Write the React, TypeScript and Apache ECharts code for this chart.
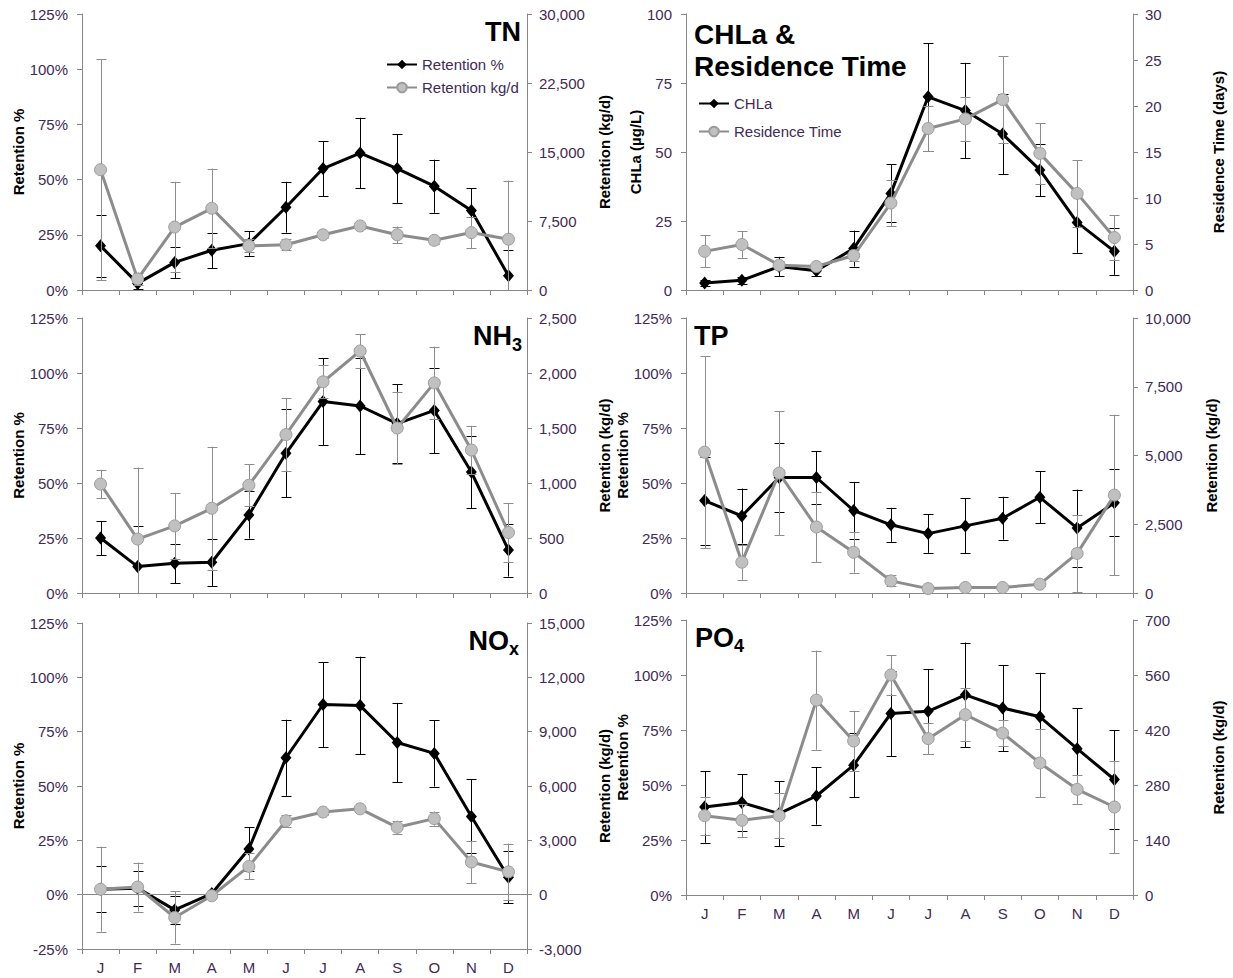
import React, { useEffect, useRef } from 'react';
import * as echarts from 'echarts';

const months = ['J', 'F', 'M', 'A', 'M', 'J', 'J', 'A', 'S', 'O', 'N', 'D'];

// TN
const tnPct = [20, 3, 12.5, 18, 21, 37.5, 55, 62, 55, 47, 36, 6.5];
const tnPctErr = [14, 2.5, 7, 8, 5.5, 11.5, 12.5, 16, 15.5, 12, 10, 11.5];
const tnKg = [13080, 1200, 6840, 8880, 4800, 4920, 6000, 6960, 6000, 5400, 6240, 5520];
const tnKgErr = [12000, 700, 4920, 4320, 700, 600, 350, 300, 900, 350, 1680, 6360];

// CHLa & Residence time
const chla = [2.5, 3.5, 8.5, 7, 15, 35, 70, 65, 56.5, 43.5, 24.5, 14];
const chlaErr = [1.2, 1.2, 3.5, 1.8, 6.5, 10.5, 19.5, 17.3, 14.5, 9.5, 11, 8.5];
const resTime = [4.2, 4.95, 2.7, 2.55, 3.75, 9.45, 17.55, 18.6, 20.7, 14.85, 10.5, 5.7];
const resTimeErr = [1.75, 1.45, 0.4, 0.3, 0.6, 2.5, 2.4, 2.4, 4.7, 3.3, 3.6, 2.4];

// NH3
const nh3Pct = [25, 12, 13.5, 14, 35.5, 63.5, 87, 85, 77, 83, 55, 19.5];
const nh3PctErr = [7.75, 18.5, 9, 10.75, 10.75, 20, 19.75, 22, 18, 19.5, 16.5, 12];
const nh3Kg = [990, 490, 610, 770, 980, 1440, 1920, 2200, 1500, 1910, 1300, 550];
const nh3KgErr = [130, 650, 300, 560, 190, 330, 150, 155, 330, 330, 220, 270];

// TP
const tpPct = [42, 35, 52.5, 52.5, 37.5, 31, 27, 30.5, 34, 43.5, 29.5, 41];
const tpPctErr = [20, 12.5, 15.5, 12, 13, 7.75, 8.75, 12.5, 9.75, 11.75, 17.5, 15.25];
const tpKg = [5120, 1120, 4360, 2400, 1480, 440, 160, 200, 200, 320, 1440, 3560];
const tpKgErr = [3500, 640, 2260, 1280, 740, 200, 60, 60, 60, 60, 1400, 2920];

// NOx
const noxPct = [2.5, 3, -7, 0.5, 21, 63, 87.5, 87, 70, 65, 36, 8];
const noxPctErr = [10.5, 8, 6.5, 0.5, 10, 17.5, 19.5, 22.5, 18.25, 15.25, 17, 12];
const noxKg = [300, 420, -1260, -60, 1560, 4080, 4560, 4740, 3720, 4200, 1800, 1260];
const noxKgErr = [2340, 1350, 1440, 60, 720, 330, 150, 150, 360, 390, 1170, 1560];

// PO4
const po4Pct = [40, 42, 37, 45, 59, 82.5, 83.5, 91, 85, 81, 66.5, 52.5];
const po4PctErr = [16.25, 13, 14.75, 13, 14.5, 19.5, 19.25, 23.75, 19.5, 20, 18.5, 22.5];
const po4Kg = [202, 190, 202, 496, 392, 560, 398, 459, 412, 336, 269, 224];
const po4KgErr = [48, 42, 57, 126, 77, 50, 40, 68, 33, 87, 37, 118];

const FONT = '"Liberation Sans", Arial, Helvetica, sans-serif';
const LABEL_COLOR = '#3f2a56';
const AXIS_COLOR = '#868686';
const GRAY_LINE = '#8c8c8c';
const GRAY_FILL = '#c0c0c0';
const GRAY_ERR = '#8c8c8c';

interface PanelCfg {
  grid: { left: number; top: number; width: number; height: number };
  showX: boolean;
  left: { min: number; max: number; interval: number; pct: boolean; name: string; gap: number };
  right: { min: number; max: number; interval: number; name: string; gap: number };
  black: { name: string; v: number[]; e: number[] };
  gray: { name: string; v: number[]; e: number[] };
  zeroLine?: boolean;
}

const panels: PanelCfg[] = [
  {
    grid: { left: 82, top: 14, width: 445, height: 276 },
    showX: false,
    left: { min: 0, max: 125, interval: 25, pct: true, name: 'Retention %', gap: 55 },
    right: { min: 0, max: 30000, interval: 7500, name: 'Retention (kg/d)', gap: 70 },
    black: { name: 'Retention %', v: tnPct, e: tnPctErr },
    gray: { name: 'Retention kg/d', v: tnKg, e: tnKgErr },
  },
  {
    grid: { left: 686, top: 14, width: 447, height: 276 },
    showX: false,
    left: { min: 0, max: 100, interval: 25, pct: false, name: 'CHLa (µg/L)', gap: 42 },
    right: { min: 0, max: 30, interval: 5, name: 'Residence Time (days)', gap: 78 },
    black: { name: 'CHLa', v: chla, e: chlaErr },
    gray: { name: 'Residence Time', v: resTime, e: resTimeErr },
  },
  {
    grid: { left: 82, top: 318, width: 445, height: 275 },
    showX: false,
    left: { min: 0, max: 125, interval: 25, pct: true, name: 'Retention %', gap: 55 },
    right: { min: 0, max: 2500, interval: 500, name: 'Retention (kg/d)', gap: 70 },
    black: { name: 'Retention %', v: nh3Pct, e: nh3PctErr },
    gray: { name: 'Retention kg/d', v: nh3Kg, e: nh3KgErr },
  },
  {
    grid: { left: 686, top: 318, width: 447, height: 275 },
    showX: false,
    left: { min: 0, max: 125, interval: 25, pct: true, name: 'Retention %', gap: 52 },
    right: { min: 0, max: 10000, interval: 2500, name: 'Retention (kg/d)', gap: 71 },
    black: { name: 'Retention %', v: tpPct, e: tpPctErr },
    gray: { name: 'Retention kg/d', v: tpKg, e: tpKgErr },
  },
  {
    grid: { left: 82, top: 623, width: 445, height: 326 },
    showX: true,
    left: { min: -25, max: 125, interval: 25, pct: true, name: 'Retention %', gap: 55 },
    right: { min: -3000, max: 15000, interval: 3000, name: 'Retention (kg/d)', gap: 70 },
    black: { name: 'Retention %', v: noxPct, e: noxPctErr },
    gray: { name: 'Retention kg/d', v: noxKg, e: noxKgErr },
    zeroLine: true,
  },
  {
    grid: { left: 686, top: 620, width: 447, height: 275 },
    showX: true,
    left: { min: 0, max: 125, interval: 25, pct: true, name: 'Retention %', gap: 52 },
    right: { min: 0, max: 700, interval: 140, name: 'Retention (kg/d)', gap: 78 },
    black: { name: 'Retention %', v: po4Pct, e: po4PctErr },
    gray: { name: 'Retention kg/d', v: po4Kg, e: po4KgErr },
  },
];

let measureCtx: CanvasRenderingContext2D | null = null;
function measure(text: string, font: string): number {
  if (!measureCtx) {
    const c = document.createElement('canvas');
    measureCtx = c.getContext('2d');
  }
  if (!measureCtx) return text.length * 15;
  measureCtx.font = font;
  return measureCtx.measureText(text).width;
}

function errRender(color: string) {
  return (params: any, api: any) => {
    const cs = params.coordSys;
    const idx = api.value(0);
    const pLo = api.coord([idx, api.value(1)]);
    const pHi = api.coord([idx, api.value(2)]);
    const x = Math.round(pLo[0]) + 0.5;
    const top = cs.y;
    const bot = cs.y + cs.height;
    const yLo = pLo[1];
    const yHi = pHi[1];
    const ya = Math.max(top, Math.min(bot, yHi));
    const yb = Math.max(top, Math.min(bot, yLo));
    const half = 5;
    const st = { stroke: color, lineWidth: 1 };
    const children: any[] = [
      { type: 'line', shape: { x1: x, y1: ya, x2: x, y2: yb }, style: st },
    ];
    if (yHi >= top && yHi <= bot) {
      const y = Math.round(yHi) + 0.5;
      children.push({ type: 'line', shape: { x1: x - half, y1: y, x2: x + half, y2: y }, style: st });
    }
    if (yLo >= top && yLo <= bot) {
      const y = Math.round(yLo) + 0.5;
      children.push({ type: 'line', shape: { x1: x - half, y1: y, x2: x + half, y2: y }, style: st });
    }
    return { type: 'group', children };
  };
}

function buildOption() {
  const grid: any[] = [];
  const xAxis: any[] = [];
  const yAxis: any[] = [];
  const series: any[] = [];

  panels.forEach((p, i) => {
    grid.push({ ...p.grid, containLabel: false });
    xAxis.push({
      type: 'category',
      gridIndex: i,
      data: months,
      boundaryGap: true,
      axisLine: { show: true, onZero: false, lineStyle: { color: AXIS_COLOR, width: 1 } },
      axisTick: { show: true, alignWithLabel: false, length: 5, inside: false, lineStyle: { color: AXIS_COLOR } },
      axisLabel: { show: p.showX, fontSize: 15, fontFamily: FONT, color: LABEL_COLOR, margin: 11 },
      splitLine: { show: false },
    });
    const lIdx = yAxis.length;
    yAxis.push({
      type: 'value',
      gridIndex: i,
      position: 'left',
      min: p.left.min,
      max: p.left.max,
      interval: p.left.interval,
      name: p.left.name,
      nameLocation: 'middle',
      nameRotate: 90,
      nameGap: p.left.gap,
      nameTextStyle: { fontSize: 15, fontWeight: 'bold', fontFamily: FONT, color: '#000' },
      axisLine: { show: true, onZero: false, lineStyle: { color: AXIS_COLOR, width: 1 } },
      axisTick: { show: true, length: 5, lineStyle: { color: AXIS_COLOR } },
      axisLabel: {
        fontSize: 15,
        fontFamily: FONT,
        color: LABEL_COLOR,
        margin: 14,
        formatter: p.left.pct ? '{value}%' : (v: number) => String(v),
      },
      splitLine: { show: false },
    });
    const rIdx = yAxis.length;
    yAxis.push({
      type: 'value',
      gridIndex: i,
      position: 'right',
      min: p.right.min,
      max: p.right.max,
      interval: p.right.interval,
      name: p.right.name,
      nameLocation: 'middle',
      nameRotate: 90,
      nameGap: p.right.gap,
      nameTextStyle: { fontSize: 15, fontWeight: 'bold', fontFamily: FONT, color: '#000' },
      axisLine: { show: true, onZero: false, lineStyle: { color: AXIS_COLOR, width: 1 } },
      axisTick: { show: true, length: 5, lineStyle: { color: AXIS_COLOR } },
      axisLabel: {
        fontSize: 15,
        fontFamily: FONT,
        color: LABEL_COLOR,
        margin: 12,
        formatter: (v: number) => v.toLocaleString('en-US'),
      },
      splitLine: { show: false },
    });

    series.push({
      type: 'custom',
      name: p.black.name + ' err',
      xAxisIndex: i,
      yAxisIndex: lIdx,
      z: 2,
      silent: true,
      renderItem: errRender('#000'),
      encode: { x: 0, y: [1, 2] },
      data: p.black.v.map((v, k) => [k, v - p.black.e[k], v + p.black.e[k]]),
    });
    const blackLine: any = {
      type: 'line',
      name: p.black.name,
      xAxisIndex: i,
      yAxisIndex: lIdx,
      z: 3,
      data: p.black.v,
      symbol: 'diamond',
      symbolSize: [11, 13],
      lineStyle: { color: '#000', width: 3 },
      itemStyle: { color: '#000' },
    };
    if (p.zeroLine) {
      blackLine.markLine = {
        silent: true,
        symbol: ['none', 'none'],
        label: { show: false },
        lineStyle: { color: AXIS_COLOR, width: 1, type: 'solid' },
        data: [{ yAxis: 0 }],
      };
    }
    series.push(blackLine);
    series.push({
      type: 'custom',
      name: p.gray.name + ' err',
      xAxisIndex: i,
      yAxisIndex: rIdx,
      z: 4,
      silent: true,
      renderItem: errRender(GRAY_ERR),
      encode: { x: 0, y: [1, 2] },
      data: p.gray.v.map((v, k) => [k, v - p.gray.e[k], v + p.gray.e[k]]),
    });
    series.push({
      type: 'line',
      name: p.gray.name,
      xAxisIndex: i,
      yAxisIndex: rIdx,
      z: 5,
      data: p.gray.v,
      symbol: 'circle',
      symbolSize: 12,
      lineStyle: { color: GRAY_LINE, width: 3 },
      itemStyle: { color: GRAY_FILL, borderColor: '#9c9c9c', borderWidth: 1 },
    });
  });

  const titleFont = 'bold 27px ' + FONT;
  const bigFont = 'bold 28px ' + FONT;
  const subFont = 'bold 18px ' + FONT;
  const t = (text: string, x: number, y: number, font: string) => ({
    type: 'text',
    x,
    y,
    silent: true,
    style: { text, font, fill: '#000', textAlign: 'left', textVerticalAlign: 'top', align: 'left', verticalAlign: 'top' },
  });

  const wTN = measure('TN', titleFont);
  const wNH = measure('NH', titleFont);
  const w3 = measure('3', subFont);
  const wNO = measure('NO', titleFont);
  const wx = measure('x', subFont);
  const wPO = measure('PO', titleFont);

  const nhX = 522 - w3 - wNH;
  const noX = 519 - wx - wNO;

  const graphic = [
    t('TN', 521 - wTN, 18, titleFont),
    t('CHLa &', 694, 20, bigFont),
    t('Residence Time', 694, 52, bigFont),
    t('NH', nhX, 322, titleFont),
    t('3', nhX + wNH, 336, subFont),
    t('TP', 694, 322, titleFont),
    t('NO', noX, 627, titleFont),
    t('x', noX + wNO, 640, subFont),
    t('PO', 695, 624, titleFont),
    t('4', 695 + wPO, 637, subFont),
  ];

  const legendText = { fontSize: 15, fontFamily: FONT, color: LABEL_COLOR };

  return {
    animation: false,
    backgroundColor: '#ffffff',
    grid,
    xAxis,
    yAxis,
    series,
    graphic,
    legend: [
      {
        left: 381,
        top: 52,
        orient: 'vertical',
        data: ['Retention %', 'Retention kg/d'],
        itemWidth: 30,
        itemHeight: 12,
        itemGap: 8,
        selectedMode: false,
        textStyle: legendText,
      },
      {
        left: 693,
        top: 91,
        orient: 'vertical',
        data: ['CHLa', 'Residence Time'],
        itemWidth: 30,
        itemHeight: 12,
        itemGap: 13,
        selectedMode: false,
        textStyle: legendText,
      },
    ],
  };
}

export default function App() {
  const ref = useRef<HTMLDivElement>(null);
  useEffect(() => {
    if (!ref.current) return;
    const chart = echarts.init(ref.current, undefined, { renderer: 'svg' });
    chart.setOption(buildOption() as any);
    return () => chart.dispose();
  }, []);
  return (
    <div
      ref={ref}
      style={{ position: 'absolute', left: 0, top: 0, width: 1233, height: 978, background: '#fff' }}
    />
  );
}
